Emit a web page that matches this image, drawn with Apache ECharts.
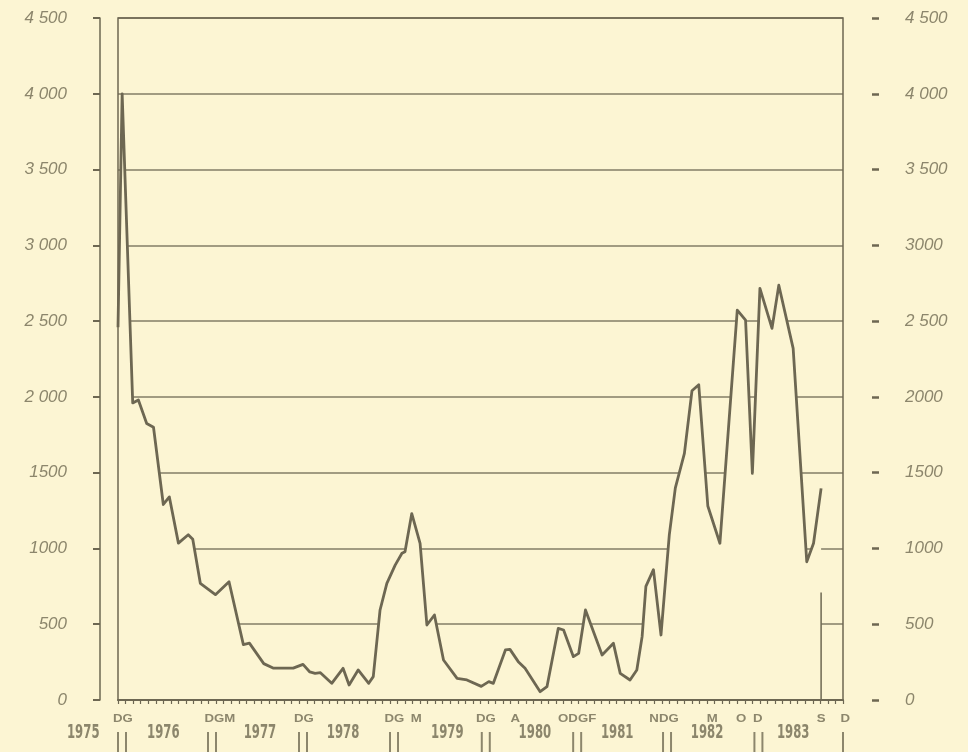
<!DOCTYPE html>
<html style="height: 100%; width: 100%">
<head>
  <meta charset="utf-8" />
</head>
<body style="height: 100%; width: 100%; margin: 0; background: #fcf5d3;">
  <div id="chart-panel" style="height: 752px; width: 968px;"></div>
  <script type="text/javascript" src="https://cdn.jsdelivr.net/npm/echarts@6/dist/echarts.min.js"></script>
  <script type="text/javascript">
    // x = months counted from January 1976 (= 0)
    var months = [-1, -0.45, 0.95, 1.7, 2.8, 3.7, 5.0, 5.8, 7.0, 8.3, 8.9, 9.9, 11.9, 13.7, 15.6, 16.4,
      18.3, 19.6, 22.2, 23.5, 24.4, 25.1, 25.8, 27.3, 28.8, 29.6, 30.8, 32.2, 32.8, 33.7, 34.6, 35.7,
      36.6, 37.0, 37.9, 39.0, 39.9, 40.9, 42.1, 43.9, 45.2, 47.1, 48.1, 48.7, 50.3, 50.9, 52.0, 52.9,
      54.9, 55.8, 57.3, 58.0, 59.3, 60.0, 60.9, 63.1, 64.6, 65.5, 66.8, 67.7, 68.4, 68.9, 69.9, 70.9,
      72.0, 72.8, 74.0, 75.0, 75.9, 77.1, 78.7, 81.0, 82.1, 83.0, 84.0, 85.6, 86.5, 88.4, 90.2, 91.1, 92.1];
    var values = [2460, 4000, 1960, 1980, 1825, 1800, 1290, 1340, 1035, 1090, 1060, 770, 695, 780, 365, 375,
      240, 210, 210, 235, 185, 176, 180, 110, 209, 99, 198, 110, 154, 594, 770, 890,
      968, 978, 1230, 1034, 495, 561, 264, 143, 132, 90, 121, 110, 330, 334, 253, 209,
      55, 88, 473, 462, 286, 308, 594, 297, 374, 176, 132, 198, 418, 750, 860, 429,
      1090, 1400, 1627, 2040, 2080, 1280, 1034, 2572, 2506, 1495, 2716, 2452, 2737, 2320, 912, 1034, 1396];

    // vertical marker at S (September 1983)
    var markMonth = 92.1;
    var markValue = 710;

    var leftLabels = ["0", "500", "1000", "1500", "2 000", "2 500", "3 000", "3 500", "4 000", "4 500"];
    var rightLabels = ["0", "500", "1000", "1500", "2000", "2 500", "3000", "3 500", "4 000", "4 500"];

    var yearNames = ["1975", "1976", "1977", "1978", "1979", "1980", "1981", "1982", "1983"];
    var yearAt = [-5.6, 5.0, 17.8, 28.8, 42.6, 54.2, 65.1, 77.0, 88.4];

    var eventText = ["DG", "DGM", "DG", "DG", "M", "DG", "A", "ODGF", "NDG", "M", "O", "D", "S", "D"];
    var eventAt = [-0.35, 12.5, 23.6, 35.6, 38.5, 47.7, 51.6, 59.8, 71.3, 77.7, 81.5, 83.7, 92.1, 95.3];

    var yearBreaks = [-0.47, 11.45, 23.5, 35.55, 47.7, 59.8, 71.7, 83.8];
    var endBreak = 95;

    var bg = "#fcf5d3";
    var ink = "#6d6752";
    var soft = "#8c866c";

    var dom = document.getElementById("chart-panel");
    var myChart = echarts.init(dom);

    var labelFont = {
      color: soft,
      fontSize: 17,
      fontStyle: "italic",
      fontFamily: "Liberation Sans",
    };

    var option = {
      animation: false,
      backgroundColor: bg,
      grid: {
        left: 118,
        right: 125,
        top: 18,
        bottom: 52,
        show: true,
        z: 4,
        backgroundColor: "transparent",
        borderColor: ink,
        borderWidth: 1.5,
      },
      xAxis: {
        type: "value",
        min: -1,
        max: 95,
        interval: 1,
        z: 4,
        axisLine: { onZero: false, lineStyle: { color: ink, width: 2 } },
        axisTick: { length: 4, lineStyle: { color: ink, width: 1.2 } },
        axisLabel: { show: false },
        splitLine: { show: false },
      },
      yAxis: [
        {
          type: "value",
          position: "left",
          offset: 18,
          min: 0,
          max: 4500,
          interval: 500,
          axisLine: { show: true, onZero: false, lineStyle: { color: ink, width: 1.5 } },
          axisTick: { show: true, length: 7, lineStyle: { color: ink, width: 2 } },
          axisLabel: Object.assign({
            margin: 33,
            formatter: function (v) { return leftLabels[Math.round(v / 500)]; },
          }, labelFont),
          splitLine: { show: true, lineStyle: { color: ink, width: 1.5, opacity: 0.85 } },
        },
        {
          type: "value",
          position: "right",
          offset: 29,
          min: 0,
          max: 4500,
          interval: 500,
          axisLine: { show: false, onZero: false },
          axisTick: { show: true, length: 7, lineStyle: { color: ink, width: 2.5 } },
          axisLabel: Object.assign({
            margin: 33,
            formatter: function (v) { return rightLabels[Math.round(v / 500)]; },
          }, labelFont),
          splitLine: { show: false },
        },
      ],
      series: [
        {
          name: "serie",
          type: "line",
          data: months.map(function (m, i) { return [m, values[i]]; }),
          symbol: "none",
          z: 2,
          lineStyle: { color: ink, width: 2.8, join: "round" },
          areaStyle: { color: bg, opacity: 1 },
        },
        {
          name: "S",
          type: "line",
          data: [[markMonth, 0], [markMonth, markValue]],
          symbol: "none",
          z: 3,
          lineStyle: { color: ink, width: 1.5 },
        },
      ],
    };

    myChart.setOption(option);

    function px(m) {
      return myChart.convertToPixel({ xAxisIndex: 0 }, m);
    }

    var elems = [];
    var baseY = myChart.convertToPixel({ yAxisIndex: 0 }, 0);

    yearNames.forEach(function (name, i) {
      elems.push({
        type: "text",
        x: px(yearAt[i]),
        y: baseY + 33,
        scaleY: 1.55,
        style: {
          text: name,
          fill: soft,
          font: 'bold 13px "Liberation Sans Narrow", "DejaVu Sans Condensed", sans-serif',
          align: "center",
          verticalAlign: "middle",
        },
      });
    });

    eventText.forEach(function (t, i) {
      elems.push({
        type: "text",
        x: px(eventAt[i]),
        y: baseY + 19,
        scaleX: 1.2,
        style: {
          text: t,
          fill: soft,
          font: 'bold 11px "Liberation Sans", sans-serif',
          align: "center",
          verticalAlign: "middle",
        },
      });
    });

    yearBreaks.forEach(function (m) {
      var x = px(m);
      [-4, 4].forEach(function (d) {
        elems.push({
          type: "line",
          shape: { x1: x + d, y1: baseY + 32, x2: x + d, y2: baseY + 52 },
          style: { stroke: soft, lineWidth: 2 },
        });
      });
    });

    var xe = px(endBreak);
    elems.push({
      type: "line",
      shape: { x1: xe, y1: baseY + 32, x2: xe, y2: baseY + 52 },
      style: { stroke: soft, lineWidth: 2 },
    });

    myChart.setOption({ graphic: elems });
  </script>
</body>
</html>
